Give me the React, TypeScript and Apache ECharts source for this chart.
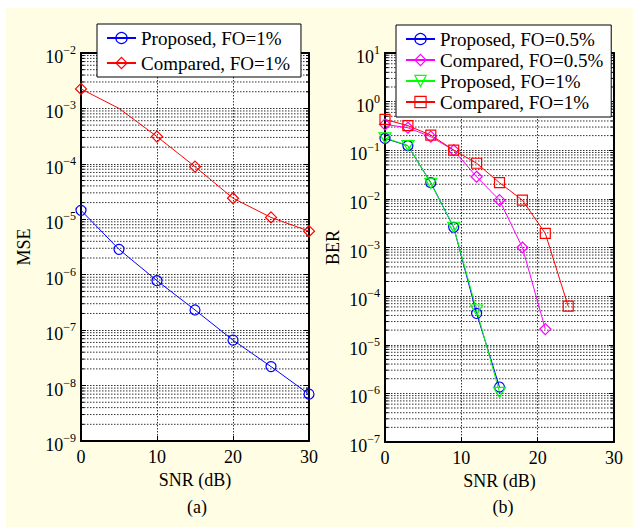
import React, { useEffect, useRef } from 'react';
import * as echarts from 'echarts';

const FONT = 'Liberation Serif';

// ---- (a) MSE vs SNR ----
const mseSnr = [0, 5, 10, 15, 20, 25, 30];
const mseProposed = [1.45e-5, 2.87e-6, 7.8e-7, 2.31e-7, 6.6e-8, 2.2e-8, 7.0e-9];
const mseCompared = [2.25e-3, 1.0e-3, 3.1e-4, 8.9e-5, 2.4e-5, 1.08e-5, 6.1e-6];
const mseComparedNoMarkerSnr = [5];

// ---- (b) BER vs SNR ----
const berSnr = [0, 3, 6, 9, 12, 15, 18, 21, 24];
const berProposed05 = [0.175, 0.124, 0.0215, 2.6e-3, 4.4e-5, 1.35e-6];
const berCompared05 = [0.34, 0.29, 0.19, 0.1, 0.0285, 9.4e-3, 1.0e-3, 2.1e-5];
const berProposed1 = [0.18, 0.125, 0.021, 2.6e-3, 5.2e-5, 1.05e-6];
const berCompared1 = [0.43, 0.32, 0.205, 0.101, 0.054, 0.0215, 9.4e-3, 1.95e-3, 6.2e-5];

const legendA = ['Proposed, FO=1%', 'Compared, FO=1%'];
const legendB = ['Proposed, FO=0.5%', 'Compared, FO=0.5%', 'Proposed, FO=1% (b)', 'Compared, FO=1% (b)'];

const X_MIN = 0;
const X_MAX = 30;
const X_STEP = 10;
const mseExpRange = [-9, -2];
const berExpRange = [-7, 1];

function minorValues(lo: number, hi: number) {
  const out: number[][] = [];
  for (let e = lo; e < hi; e++) {
    for (let m = 2; m <= 9; m++) out.push([15, m * Math.pow(10, e)]);
  }
  return out;
}

const expLabel = (v: number) => {
  const e = Math.round(Math.log10(v));
  const s = e < 0 ? '\u2212' + -e : String(e);
  return `{b|10}{e|${s}}`;
};

const richLabel = {
  b: { fontSize: 18, fontFamily: FONT, color: '#000', padding: [8, 0, 0, 0] },
  e: { fontSize: 12, fontFamily: FONT, color: '#000', padding: [4, 0, 10, 0] },
};

const DOT = [1.5, 1.5];
const gridLine = { show: true, lineStyle: { color: '#333', width: 1, type: DOT as any } };

function xAxes(gridIndex: number) {
  return [
    {
      type: 'value', gridIndex, min: X_MIN, max: X_MAX, interval: X_STEP, position: 'bottom',
      name: 'SNR (dB)', nameLocation: 'middle', nameGap: 28,
      nameTextStyle: { fontFamily: FONT, fontSize: 18, color: '#000' },
      axisLine: { show: true, onZero: false, lineStyle: { color: '#000', width: 2 } },
      axisTick: { show: true, inside: true, length: 5, lineStyle: { color: '#000' } },
      axisLabel: { fontFamily: FONT, fontSize: 18, color: '#000', margin: 7 },
      splitLine: gridLine,
    },
    {
      type: 'value', gridIndex, min: X_MIN, max: X_MAX, interval: X_STEP, position: 'top',
      axisLine: { show: true, onZero: false, lineStyle: { color: '#000', width: 2 } },
      axisTick: { show: true, inside: true, length: 5, lineStyle: { color: '#000' } },
      axisLabel: { show: false },
      splitLine: { show: false },
    },
  ];
}

function yAxes(gridIndex: number, range: number[], name: string, nameGap: number) {
  return [
    {
      type: 'log', logBase: 10, gridIndex, min: Math.pow(10, range[0]), max: Math.pow(10, range[1]),
      position: 'left', name, nameLocation: 'middle', nameGap,
      nameTextStyle: { fontFamily: FONT, fontSize: 18, color: '#000' },
      axisLine: { show: true, onZero: false, lineStyle: { color: '#000', width: 2 } },
      axisTick: { show: true, inside: true, length: 5, lineStyle: { color: '#000' } },
      axisLabel: { formatter: expLabel, rich: richLabel, margin: 5 },
      splitLine: gridLine,
      minorTick: { show: false },
    },
    {
      type: 'log', logBase: 10, gridIndex, min: Math.pow(10, range[0]), max: Math.pow(10, range[1]),
      position: 'right',
      axisLine: { show: true, onZero: false, lineStyle: { color: '#000', width: 2 } },
      axisTick: { show: true, inside: true, length: 5, lineStyle: { color: '#000' } },
      axisLabel: { show: false },
      splitLine: { show: false },
    },
  ];
}

function minorSeries(xAxisIndex: number, yAxisIndex: number, range: number[]) {
  return {
    type: 'custom', xAxisIndex, yAxisIndex, silent: true, z: 1,
    data: minorValues(range[0], range[1]),
    encode: { x: 0, y: 1 },
    renderItem: (_p: any, api: any) => {
      const v = api.value(1);
      const a = api.coord([X_MIN, v]);
      const b = api.coord([X_MAX, v]);
      return {
        type: 'group',
        children: [
          { type: 'line', shape: { x1: a[0], y1: a[1], x2: b[0], y2: b[1] }, style: { stroke: '#333', lineWidth: 1, lineDash: DOT } },
          { type: 'line', shape: { x1: a[0], y1: a[1], x2: a[0] + 3, y2: a[1] }, style: { stroke: '#000', lineWidth: 1 } },
          { type: 'line', shape: { x1: b[0] - 3, y1: b[1], x2: b[0], y2: b[1] }, style: { stroke: '#000', lineWidth: 1 } },
        ],
      };
    },
  };
}

function lineSeries(name: string, xs: number[], ys: number[], color: string, symbol: string, size: any,
  xAxisIndex: number, yAxisIndex: number, noMarkerX: number[] = []) {
  return {
    type: 'line', name, xAxisIndex, yAxisIndex, z: 3,
    data: ys.map((y, i) => (noMarkerX.includes(xs[i]) ? { value: [xs[i], y], symbol: 'none' } : [xs[i], y])),
    symbol, symbolSize: size, showSymbol: true, showAllSymbol: true,
    lineStyle: { color, width: 1 },
    itemStyle: { color: 'rgba(0,0,0,0)', borderColor: color, borderWidth: 1.2 },
    emphasis: { disabled: true },
  };
}

const TRI_DOWN = 'path://M0,0L12,0L6,10Z';

export default function App() {
  const ref = useRef<HTMLDivElement>(null);
  useEffect(() => {
    if (!ref.current) return;
    const chart = echarts.init(ref.current, undefined, { renderer: 'svg' });
    const legendCommon = {
      orient: 'vertical', itemWidth: 29, itemHeight: 14, itemTextGap: 8,
      backgroundColor: '#fff', borderColor: '#000', borderWidth: 1,
      textStyle: { fontFamily: FONT, fontSize: 19, color: '#000', lineHeight: 20 },
      itemStyle: { borderWidth: 1.2 },
      selectedMode: false,
      formatter: (n: string) => n.replace(' (b)', ''),
    };
    chart.setOption({
      animation: false,
      backgroundColor: '#fff',
      graphic: [
        { type: 'rect', z: -10, silent: true, shape: { x: 6, y: 8, width: 627, height: 519 }, style: { fill: '#FFFEE5' } },
        { type: 'text', x: 197, y: 507, style: { text: '(a)', font: `18px ${FONT}`, fill: '#000', align: 'center', verticalAlign: 'middle' } },
        { type: 'text', x: 503, y: 507, style: { text: '(b)', font: `18px ${FONT}`, fill: '#000', align: 'center', verticalAlign: 'middle' } },
      ],
      grid: [
        { left: 81, top: 53, width: 228, height: 388, show: true, backgroundColor: '#fff', borderWidth: 0 },
        { left: 385, top: 53, width: 229, height: 389, show: true, backgroundColor: '#fff', borderWidth: 0 },
      ],
      xAxis: [...xAxes(0), ...xAxes(1)],
      yAxis: [...yAxes(0, mseExpRange, 'MSE', 48), ...yAxes(1, berExpRange, 'BER', 43)],
      legend: [
        { ...legendCommon, data: legendA, left: 97, top: 24, padding: [4, 11, 4, 9], itemGap: 5 },
        { ...legendCommon, data: legendB, left: 396, top: 25, padding: [4, 8, 5, 9], itemGap: 1 },
      ],
      series: [
        minorSeries(0, 0, mseExpRange),
        minorSeries(2, 2, berExpRange),
        lineSeries(legendA[0], mseSnr, mseProposed, '#0000ff', 'circle', 10, 0, 0),
        lineSeries(legendA[1], mseSnr, mseCompared, '#ff0000', 'diamond', 11, 0, 0, mseComparedNoMarkerSnr),
        lineSeries(legendB[0], berSnr, berProposed05, '#0000ff', 'circle', 10, 2, 2),
        lineSeries(legendB[1], berSnr, berCompared05, '#ff00ff', 'diamond', 11, 2, 2),
        lineSeries(legendB[2], berSnr, berProposed1, '#00ff00', TRI_DOWN, [12, 10], 2, 2),
        lineSeries(legendB[3], berSnr, berCompared1, '#ff0000', 'rect', 10, 2, 2),
      ],
    });
    return () => chart.dispose();
  }, []);
  return <div ref={ref} style={{ position: 'absolute', left: 0, top: 0, width: 633, height: 527 }} />;
}
